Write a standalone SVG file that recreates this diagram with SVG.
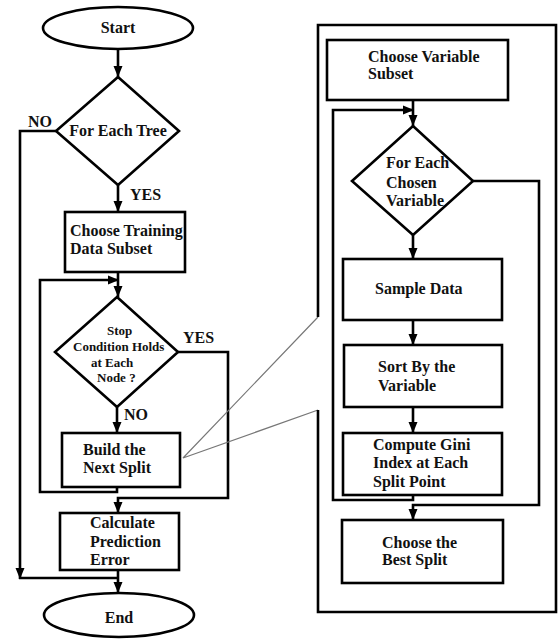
<svg xmlns="http://www.w3.org/2000/svg" width="558" height="640" viewBox="0 0 558 640">
<defs>
<style>
.s{fill:#fff;stroke:#000;stroke-width:2.6}
.c{fill:none;stroke:#000;stroke-width:2.6}
.g{fill:none;stroke:#777;stroke-width:1.2}
text{font-family:"Liberation Serif","Times New Roman",serif;font-weight:bold;font-size:16px;fill:#111}
.sm{font-size:13px}
.m{text-anchor:middle}
</style>
<marker id="a" markerUnits="userSpaceOnUse" markerWidth="12" markerHeight="12" viewBox="0 0 12 12" refX="11" refY="6" orient="auto">
<path d="M0,1.5 L11,6 L0,10.5 Z" fill="#000"/>
</marker>
</defs>
<rect width="558" height="640" fill="#fff"/>

<g id="connectors">
<path class="c" d="M118,50 V77" marker-end="url(#a)"/>
<path class="c" d="M56,131 H20 V579" marker-end="url(#a)"/>
<path class="c" d="M19,578 H118"/>
<path class="c" d="M118,185 V212" marker-end="url(#a)"/>
<path class="c" d="M118,272 V297" marker-end="url(#a)"/>
<path class="c" d="M117,487 V492 H40 V280 H119" marker-end="url(#a)"/>
<path class="c" d="M178,352 H228 V498 H118 V513" marker-end="url(#a)"/>
<path class="c" d="M117,407 V433" marker-end="url(#a)"/>
<path class="c" d="M118,570 V593" marker-end="url(#a)"/>
<path class="c" d="M413,100 V126" marker-end="url(#a)"/>
<path class="c" d="M413,495 V500 H333 V110 H414" marker-end="url(#a)"/>
<path class="c" d="M473,181 H539 V505 H413 V520" marker-end="url(#a)"/>
<path class="c" d="M413,235 V259" marker-end="url(#a)"/>
<path class="c" d="M413,320 V345" marker-end="url(#a)"/>
<path class="c" d="M413,407 V433" marker-end="url(#a)"/>
<path class="g" d="M318,317 L183,458 L318,410"/>
</g>

<g id="frame">
<path class="c" d="M318,317 V25 H556 V612 H318 V410"/>
</g>

<g id="start">
<ellipse class="s" cx="118" cy="28" rx="75" ry="21"/>
<text class="m" x="118" y="33">Start</text>
</g>

<g id="for-each-tree">
<path class="s" d="M118,77 L179,131 L118,185 L56,131 Z"/>
<text class="m" x="118" y="136">For Each Tree</text>
<text x="28" y="127">NO</text>
<text x="130" y="200">YES</text>
</g>

<g id="choose-training">
<rect class="s" x="65" y="212" width="120" height="60"/>
<text x="70" y="236">Choose Training</text>
<text x="70" y="254">Data Subset</text>
</g>

<g id="stop-condition">
<path class="s" d="M117,297 L178,352 L117,407 L55,352 Z"/>
<text class="sm" x="107" y="335">Stop</text>
<text class="sm" x="73" y="351">Condition Holds</text>
<text class="sm" x="91" y="367">at Each</text>
<text class="sm" x="97" y="382">Node ?</text>
<text x="183" y="343">YES</text>
<text x="124" y="420">NO</text>
</g>

<g id="build-split">
<rect class="s" x="62" y="433" width="118" height="54"/>
<text x="83" y="455">Build the</text>
<text x="83" y="473">Next Split</text>
</g>

<g id="calc-error">
<rect class="s" x="60" y="513" width="119" height="57"/>
<text x="90" y="528">Calculate</text>
<text x="90" y="547">Prediction</text>
<text x="90" y="565">Error</text>
</g>

<g id="end">
<ellipse class="s" cx="119" cy="615" rx="75" ry="22"/>
<text class="m" x="119" y="623">End</text>
</g>

<g id="choose-variable">
<rect class="s" x="327" y="40" width="181" height="60"/>
<text x="368" y="62">Choose Variable</text>
<text x="368" y="79">Subset</text>
</g>

<g id="for-each-variable">
<path class="s" d="M413,126 L473,181 L413,235 L352,181 Z"/>
<text x="386" y="168">For Each</text>
<text x="386" y="188">Chosen</text>
<text x="386" y="206">Variable</text>
</g>

<g id="sample-data">
<rect class="s" x="343" y="259" width="159" height="61"/>
<text x="375" y="294">Sample Data</text>
</g>

<g id="sort-variable">
<rect class="s" x="344" y="345" width="158" height="62"/>
<text x="378" y="372">Sort By the</text>
<text x="378" y="391">Variable</text>
</g>

<g id="compute-gini">
<rect class="s" x="343" y="433" width="159" height="62"/>
<text x="373" y="450">Compute Gini</text>
<text x="373" y="468">Index at Each</text>
<text x="373" y="487">Split Point</text>
</g>

<g id="best-split">
<rect class="s" x="342" y="520" width="161" height="63"/>
<text x="382" y="548">Choose the</text>
<text x="382" y="565">Best Split</text>
</g>
</svg>
